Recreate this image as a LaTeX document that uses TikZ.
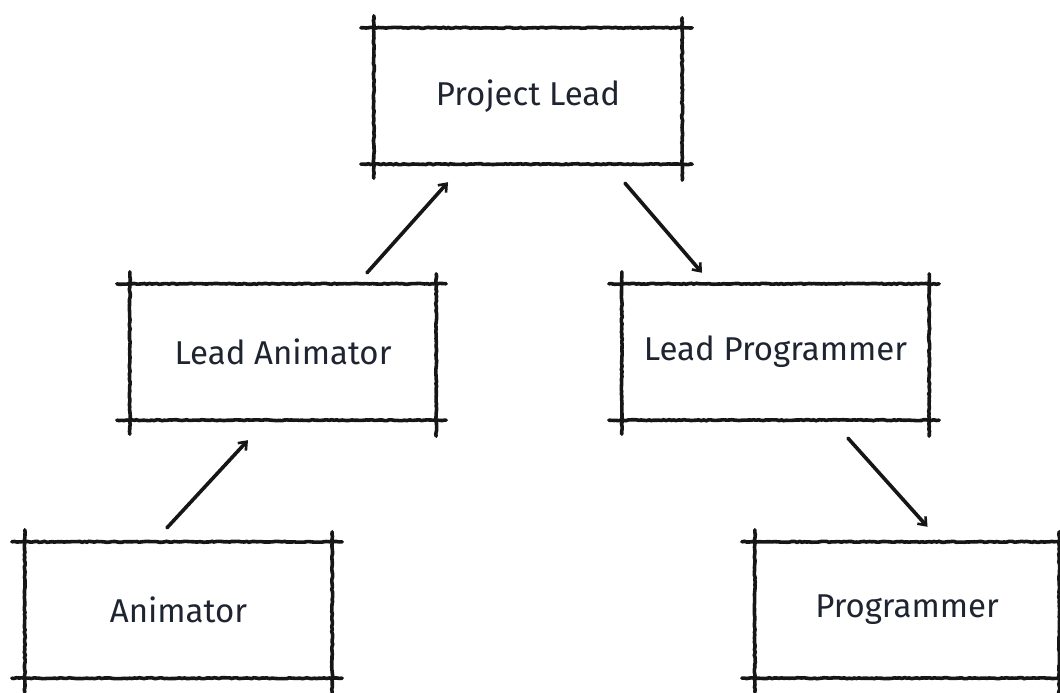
\documentclass[tikz,border=0pt]{standalone}
\usepackage{fontspec}
\setmainfont{Fira Sans}
\usetikzlibrary{arrows.meta,calc,decorations.pathmorphing}
\definecolor{inkline}{HTML}{161616}
\definecolor{inktext}{HTML}{1E2430}
\tikzset{
  role/.style={minimum width=#1, minimum height=136pt, inner sep=0pt,
    font=\fontsize{33}{38}\selectfont, text=inktext},
  rough/.style={draw=inkline, line width=3.6pt, line cap=round, decorate,
    decoration={random steps, segment length=2.5pt, amplitude=0.5pt}},
  conn/.style={draw=inkline, line width=3.6pt, line cap=round,
    -{Straight Barb[length=7pt,width=11pt,line width=2.6pt]}}
}
% hand-sketched frame: four strokes that run past the corners
\newcommand\sketchframe[1]{%
  \draw[rough] ($(#1.north west)+(-13,0)$) -- ($(#1.north east)+(10,0)$);
  \draw[rough] ($(#1.south west)+(-13,0)$) -- ($(#1.south east)+(10,0)$);
  \draw[rough] ($(#1.north west)+(0,12)$) -- ($(#1.south west)+(0,-14)$);
  \draw[rough] ($(#1.north east)+(0,10)$) -- ($(#1.south east)+(0,-16)$);
}
\begin{document}
\begin{tikzpicture}[x=1pt,y=1pt]
  \pgfmathsetseed{7}
  \useasboundingbox (0,0) rectangle (1060,693);
  \fill[white] (0,0) rectangle (1060,693);

  \node[role=308pt] (pl) at (528,597)   {Project Lead};
  \node[role=306pt] (la) at (283,341)   {Lead Animator};
  \node[role=307pt] (lp) at (775.5,341) {Lead Programmer};
  \node[role=307pt] (an) at (178.5,83)  {Animator};
  \node[role=304pt] (pr) at (907,83)    {Programmer};

  \sketchframe{pl}
  \sketchframe{la}
  \sketchframe{lp}
  \sketchframe{an}
  \sketchframe{pr}

  \draw[conn] ([xshift=84pt,yshift=11pt]la.north) -- ([xshift=-80pt,yshift=-18pt]pl.south);
  \draw[conn] ([xshift=97pt,yshift=-19pt]pl.south) -- ([xshift=-73.5pt,yshift=11pt]lp.north);
  \draw[conn] ([xshift=-11.5pt,yshift=14pt]an.north) -- ([xshift=-35pt,yshift=-20pt]la.south);
  \draw[conn] ([xshift=72.5pt,yshift=-18pt]lp.south) -- ([xshift=20.5pt,yshift=15pt]pr.north);
\end{tikzpicture}
\end{document}
